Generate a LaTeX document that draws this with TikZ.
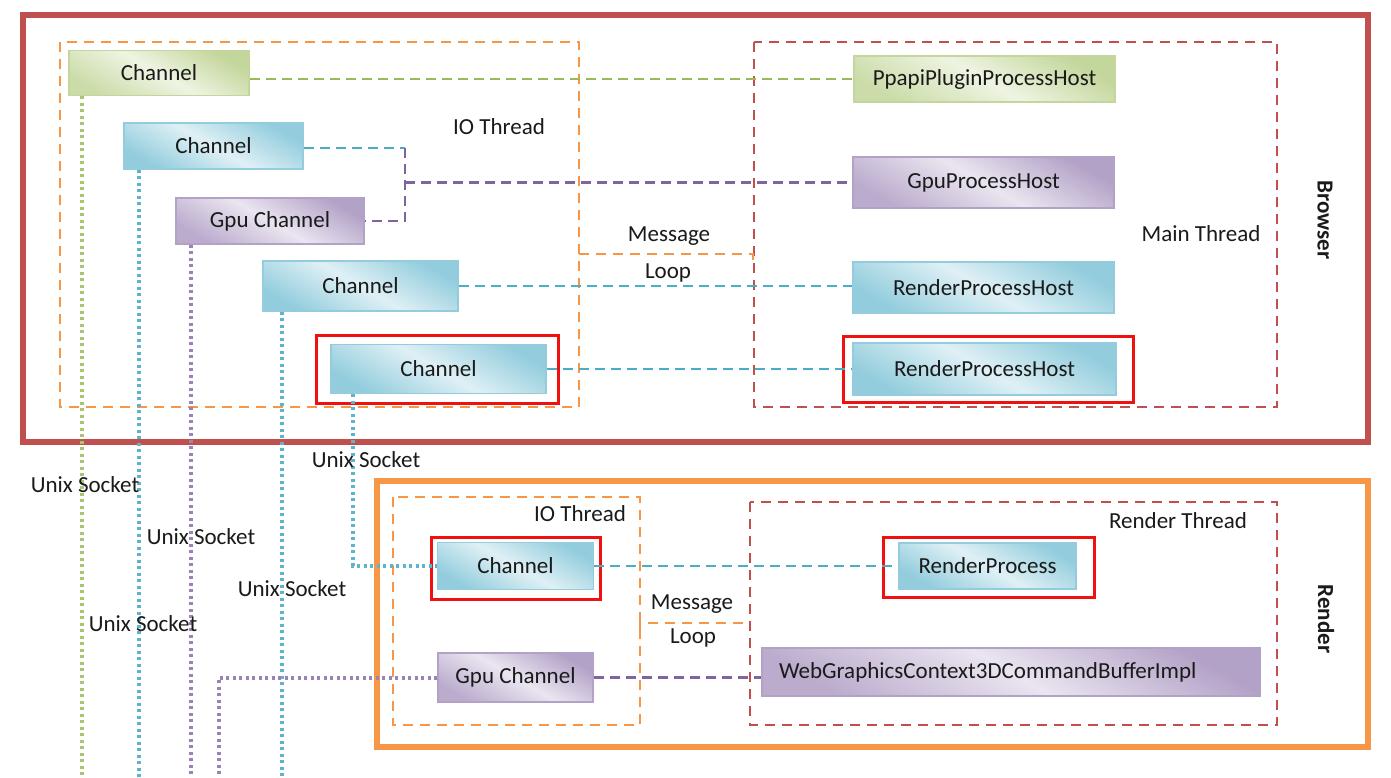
\documentclass[tikz,border=0pt]{standalone}
\usepackage{fontspec}
\setmainfont{Carlito}
\definecolor{txt}{HTML}{1A1A1A}
\definecolor{gdark}{HTML}{C3D69B}
\definecolor{glight}{HTML}{EEF4E2}
\definecolor{bdark}{HTML}{93CDDD}
\definecolor{blight}{HTML}{DFF0F5}
\definecolor{pdark}{HTML}{B3A2C7}
\definecolor{plight}{HTML}{EAE5F0}
\definecolor{gline}{HTML}{9BBB59}
\definecolor{bline}{HTML}{4BACC6}
\definecolor{pline}{HTML}{8064A2}
\definecolor{orangec}{HTML}{F79646}
\definecolor{redc}{HTML}{C0504D}
\definecolor{hlred}{HTML}{F01010}
\tikzset{
  base/.style={line width=1.5pt, inner sep=0pt, font=\fontsize{23}{27}\selectfont, text=txt},
  gbox/.style={base, draw=gdark, top color=gdark, bottom color=gdark!80!glight, middle color=glight, shading angle=-30},
  bbox/.style={base, draw=bdark, top color=bdark, bottom color=bdark, middle color=blight, shading angle=-30},
  pbox/.style={base, draw=pdark, top color=pdark, bottom color=pdark!85!plight, middle color=plight, shading angle=-30},
  conn/.style={line width=2.5pt, dash pattern=on 10pt off 6pt},
  dotl/.style={line width=4pt, dash pattern=on 3pt off 3.5pt},
  frame/.style={line width=2pt, dash pattern=on 10pt off 7pt},
  hl/.style={draw=hlred, line width=3pt},
  lbl/.style={font=\fontsize{23}{27}\selectfont, text=txt, inner sep=0pt},
  side/.style={font=\bfseries\fontsize{23}{27}\selectfont, text=txt, rotate=-90, inner sep=0pt}
}
\begin{document}
\begin{tikzpicture}[x=1pt,y=-1pt]
\useasboundingbox (0,0) rectangle (1391,777);
\fill[white] (0,0) rectangle (1391,777);

% outer frames
\draw[redc, line width=5.5pt] (23,15) rectangle (1368,442);
\draw[orangec, line width=5.5pt] (377,481) rectangle (1368,747);

% thread frames
\draw[frame, orangec] (60,42) rectangle (579,407);
\draw[frame, redc] (754,42) rectangle (1277,407);
\draw[frame, orangec] (579,254) -- (753,254) -- (753,262);
\draw[frame, orangec] (393,497) rectangle (640,725);
\draw[frame, redc] (750,502) rectangle (1277,725);
\draw[frame, orangec] (640,632) -- (640,623) -- (750,623);

% nodes (browser)
\node[gbox, minimum width=180, minimum height=45] (gch) at (159,73) {Channel};
\node[gbox, minimum width=261, minimum height=46] (ppapi) at (984.5,79) {PpapiPluginProcessHost};
\node[bbox, minimum width=179, minimum height=46] (b1) at (213.5,146) {Channel};
\node[pbox, minimum width=188, minimum height=46] (gpu1) at (270,221) {Gpu Channel};
\node[pbox, minimum width=261, minimum height=51] (gph) at (983.5,182.5) {GpuProcessHost};
\node[bbox, minimum width=195, minimum height=50] (b2) at (360.5,286) {Channel};
\node[bbox, minimum width=261, minimum height=51] (rph1) at (983.5,287.5) {RenderProcessHost};
\node[bbox, minimum width=215, minimum height=49] (b3) at (438.5,369) {Channel};
\node[bbox, minimum width=263, minimum height=52] (rph2) at (984.5,369) {RenderProcessHost};

% nodes (render)
\node[bbox, minimum width=156, minimum height=47] (rch) at (515.5,566) {Channel};
\node[pbox, minimum width=155, minimum height=49] (rgpu) at (515.5,677.5) {Gpu Channel};
\node[bbox, minimum width=177, minimum height=46] (rp) at (987.5,566) {RenderProcess};
\node[pbox, minimum height=48, text width=464pt, inner xsep=17pt, align=left] (wg) at (1011,672) {WebGraphicsContext3DCommandBufferImpl};

% highlight frames
\draw[hl] (316,335) rectangle (558,403);
\draw[hl] (843,336) rectangle (1133,402);
\draw[hl] (431,537) rectangle (600,599);
\draw[hl] (883,537) rectangle (1094,597);

% dashed connectors
\coordinate (j1) at (405,148);
\draw[conn, gline] (ppapi.west -| gch.east) -- (ppapi.west);
\draw[conn, bline] (b1.east |- j1) -- (j1);
\draw[conn, pline] (j1) -- (j1 |- gpu1.east) -- (gpu1.east);
\draw[conn, pline] (j1 |- gph.west) -- (gph.west);
\draw[conn, bline] (b2.east) -- (b2.east -| rph1.west);
\draw[conn, bline] (b3.east) -- (b3.east -| rph2.west);
\draw[conn, bline] (rch.east) -- (rch.east -| rp.west);
\draw[conn, pline] (rgpu.east) -- (rgpu.east -| wg.west);

% dotted unix sockets
\coordinate (bot) at (0,777);
\coordinate (pb) at (219,777);
\draw[dotl, gline!85] ([xshift=14pt]gch.south west) -- ([xshift=14pt]gch.south west |- bot);
\draw[dotl, bline!90] ([xshift=16pt]b1.south west) -- ([xshift=16pt]b1.south west |- bot);
\draw[dotl, pline!80] ([xshift=16pt]gpu1.south west) -- ([xshift=16pt]gpu1.south west |- bot);
\draw[dotl, bline!90] ([xshift=20pt]b2.south west) -- ([xshift=20pt]b2.south west |- bot);
\draw[dotl, bline!90] ([xshift=23pt]b3.south west) |- (rch.west);
\draw[dotl, pline!80] (rgpu.west) -| (pb);

% labels
\node[lbl] (l1) at (499,127) {IO Thread};
\node[lbl] (l2) at (669,236) {Message};
\node[lbl] (l3) at (668,273) {Loop};
\node[lbl] (l4) at (1201,234) {Main Thread};
\node[side] (l5) at (1325,220) {Browser};
\node[lbl] (u1) at (366,460) {Unix Socket};
\node[lbl] (u2) at (85,485) {Unix Socket};
\node[lbl] (u3) at (201,537) {Unix Socket};
\node[lbl] (u4) at (292,589) {Unix Socket};
\node[lbl] (u5) at (143,624) {Unix Socket};
\node[lbl] (l6) at (580,514) {IO Thread};
\node[lbl] (l7) at (1178,521) {Render Thread};
\node[lbl] (l8) at (692,604) {Message};
\node[lbl] (l9) at (693,638) {Loop};
\node[side] (l10) at (1326,619) {Render};
\end{tikzpicture}
\end{document}
